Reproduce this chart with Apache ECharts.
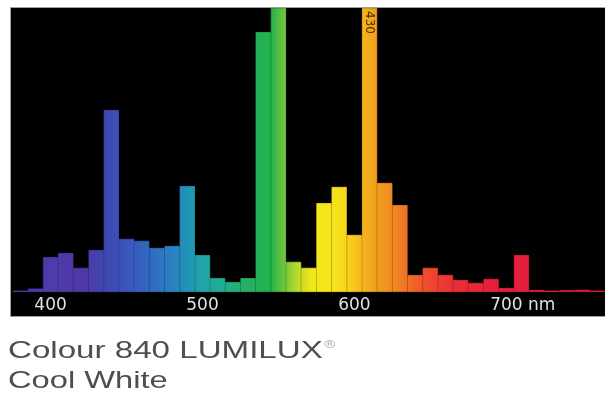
<!DOCTYPE html>
<html>
<head>
<meta charset="utf-8">
<script src="https://cdn.jsdelivr.net/npm/echarts@6/dist/echarts.min.js"></script>
<style>
html,body{margin:0;padding:0;background:#fff;}
#chart{width:605px;height:396px;}
</style>
</head>
<body>
<div id="chart"></div>
<script>
// Wavelength bins (nm)
const wavelengths = [380,390,400,410,420,430,440,450,460,470,480,490,500,510,520,530,540,550,560,570,580,590,600,610,620,630,640,650,660,670,680,690,700,710,720,730,740,750,760];
// Relative spectral intensity (peaks clipped at the top of the frame)
const intensity = [0.5,1.2,12.3,13.7,8.5,14.8,64.1,18.7,18.0,15.5,16.2,37.3,13.0,4.9,3.5,4.9,91.5,100,10.6,8.5,31.3,37.0,20.1,100,38.4,30.6,6.0,8.5,6.0,4.2,3.2,4.6,1.4,13.0,0.7,0.5,0.6,0.8,0.5];
// Tick labels shown on the wavelength axis
const tickLabels = {'400':'400','500':'500','600':'600','700':'700 nm'};
// Text printed on the clipped orange peak
const peakNote = {wavelength: 610, text: '430'};
const captionLine1 = 'Colour 840 LUMILUX';
const captionMark = '®';
const captionLine2 = 'Cool White';

// spectrum colour stops (wavelength -> colour), style only
const spectrumStops = [
  [375,'#4a36a2'],[400,'#4b3eaa'],[420,'#5236a8'],[435,'#4046b0'],[450,'#3a56ba'],
  [465,'#3268c2'],[480,'#2a82c0'],[490,'#2094b8'],[500,'#20a4aa'],[515,'#22ae88'],
  [530,'#24b062'],[545,'#22b24c'],[555,'#78c83a'],[562,'#b8d82a'],[572,'#f0e81c'],
  [590,'#f8e01c'],[600,'#f8c61a'],[612,'#f2a41e'],[625,'#f08a22'],[635,'#f07026'],
  [648,'#f04a2e'],[665,'#ea3034'],[690,'#e6203a'],[765,'#e01c3c']
];

const gridLeft = 12.6, gridRight = 0, gridTop = 8, gridBottom = 104;
const W = 605;
const lamMin = 375, lamMax = 765;
function makeGradient() {
  return new echarts.graphic.LinearGradient(
    gridLeft, 0, W - gridRight, 0,
    spectrumStops.map(s => ({offset: (s[0]-lamMin)/(lamMax-lamMin), color: s[1]})),
    true
  );
}

const chart = echarts.init(document.getElementById('chart'), null, {renderer:'canvas', width:605, height:396});
chart.setOption({
  animation: false,
  backgroundColor: '#ffffff',
  graphic: [
    {type:'rect', z:0, shape:{x:10.5, y:7.5, width:595, height:309}, style:{fill:'#000', stroke:'#a0a0a0', lineWidth:1}},
    {type:'text', z:10, x:8, y:351, scaleX:1.38, originX:0, originY:0,
      style:{text:'{a|'+captionLine1+'}{r|'+captionMark+'}', verticalAlign:'middle',
        rich:{a:{fontSize:24, fontFamily:'Liberation Sans', fill:'#4e4e4e'},
              r:{fontSize:11, fontFamily:'Liberation Sans', fill:'#aaaaaa', verticalAlign:'top', padding:[0,0,10,1]}}}},
    {type:'text', z:10, x:8, y:381, scaleX:1.36, originX:0, originY:0,
      style:{text:captionLine2, fontSize:24, fontFamily:'Liberation Sans', fill:'#4e4e4e', verticalAlign:'middle'}}
  ],
  grid: {left:gridLeft, right:gridRight, top:gridTop, bottom:gridBottom, containLabel:false},
  xAxis: {
    type:'category',
    data: wavelengths.map(String),
    boundaryGap: true,
    axisLine:{show:false}, axisTick:{show:false}, splitLine:{show:false},
    axisLabel:{
      interval: (i, v) => tickLabels[v] !== undefined,
      formatter: v => v === '700' ? '{a|700}{b| nm}' : (tickLabels[v] || ''),
      color:'#e0e0e0', fontSize:17, fontFamily:'DejaVu Sans', margin:5,
      rich:{a:{color:'#e0e0e0', fontSize:17, fontFamily:'DejaVu Sans', padding:[0,0,0,33]},
            b:{color:'#e0e0e0', fontSize:17, fontFamily:'DejaVu Sans'}}
    }
  },
  yAxis: {type:'value', min:0, max:100, show:false},
  series: [{
    type:'bar',
    z:2,
    data: intensity,
    barCategoryGap:'0%',
    barWidth:'100%',
    clip:true,
    itemStyle:{color: makeGradient(), borderColor: makeGradient(), borderWidth: 0.8},
    label:{
      show:true,
      position:'insideTop',
      distance:3,
      rotate:-90,
      align:'left',
      verticalAlign:'middle',
      fontSize:12,
      fontFamily:'DejaVu Sans',
      color:'#4a3000',
      formatter: p => String(wavelengths[p.dataIndex]) === String(peakNote.wavelength) ? peakNote.text : ''
    }
  }]
});
</script>
</body>
</html>
